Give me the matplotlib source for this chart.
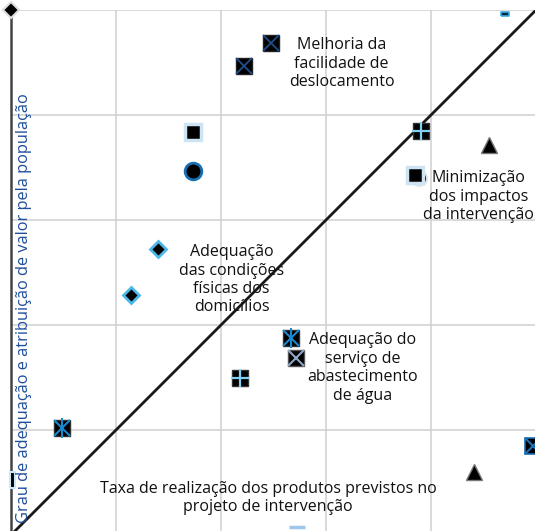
import matplotlib
matplotlib.use("Agg")
import matplotlib.pyplot as plt

plt.rcParams['font.family'] = ['Open Sans', 'DejaVu Sans']

# marker points: (x, y) in grid units, 0..5
x_melhoria = [2.48, 2.22]
y_melhoria = [4.69, 4.47]
x_adeq_agua = [2.67, 0.49]
y_adeq_agua = [1.88, 1.02]
x_agua_x = [2.71]
y_agua_x = [1.69]
x_plus = [3.90, 2.18]
y_plus = [3.85, 1.50]
x_diamond = [1.40, 1.14]
y_diamond = [2.72, 2.29]
x_square = [1.73, 3.85]
y_square = [3.84, 3.43]
x_circle = [1.73]
y_circle = [3.47]
x_circle2 = [3.89]
y_circle2 = [3.40]
x_triangle = [4.55, 4.41]
y_triangle = [3.71, 0.60]
x_right_sq = [4.97]
y_right_sq = [0.85]

labels = ["Melhoria da\nfacilidade de\ndeslocamento",
          "Minimização\ndos impactos\nda intervenção",
          "Adequação\ndas condições\nfísicas dos\ndomicílios",
          "Adequação do\nserviço de\nabastecimento\nde água",
          "Taxa de realização dos produtos previstos no\nprojeto de intervenção"]
label_x = [3.15, 4.45, 2.10, 3.35, 2.45]
label_y = [4.49, 3.22, 2.43, 1.59, 0.35]

W, H = 535, 531
fig = plt.figure(figsize=(W / 100, H / 100), dpi=100)
ax = fig.add_axes([11 / W, (H - 535) / H, 525 / W, 525 / H])
ax.set_xlim(0, 5)
ax.set_ylim(0, 5)
ax.set_xticks(range(6))
ax.set_yticks(range(6))
ax.grid(True, color='#d0d0d0', lw=1.1)
ax.tick_params(length=0, labelleft=False, labelbottom=False)
for s in ['top', 'right', 'bottom']:
    ax.spines[s].set_visible(False)
ax.spines['left'].set_color('#444444')
ax.spines['left'].set_linewidth(1.8)
ax.set_axisbelow(True)

ax.plot([0, 5], [0, 5], color='#1a1a1a', lw=2, zorder=2)

kw = dict(linestyle='none', clip_on=False, zorder=3)
# black squares with crosses
ax.plot(x_melhoria, y_melhoria, marker='s', ms=12, mfc='black', mec='#222222', mew=1, **kw)
ax.plot(x_melhoria, y_melhoria, marker='x', ms=11, mec='#1f4e8c', mew=1.3, **kw)
ax.plot(x_adeq_agua, y_adeq_agua, marker='s', ms=12, mfc='black', mec='#333333', mew=1, **kw)
ax.plot(x_adeq_agua, y_adeq_agua, marker='x', ms=11, mec='#1a88cc', mew=1.5, **kw)
ax.plot(x_adeq_agua, y_adeq_agua, marker='|', ms=15, mec='#1a88cc', mew=1.5, **kw)
ax.plot(x_agua_x, y_agua_x, marker='s', ms=12, mfc='black', mec='#555555', mew=1, **kw)
ax.plot(x_agua_x, y_agua_x, marker='x', ms=11, mec='#8fa6c6', mew=1.5, **kw)
ax.plot(x_plus, y_plus, marker='s', ms=12, mfc='black', mec='#333333', mew=1, **kw)
ax.plot(x_plus, y_plus, marker='+', ms=13, mec='#7fd0f2', mew=1.6, **kw)
ax.plot(x_right_sq, y_right_sq, marker='s', ms=12, mfc='black', mec='#1a6fb5', mew=1.2, **kw)
ax.plot(x_right_sq, y_right_sq, marker='x', ms=11, mec='#1a6fb5', mew=1.5, **kw)

ax.plot(x_circle, y_circle, marker='o', ms=12, mfc='black', mec='#1a6fb0', mew=2, **kw)
ax.plot(x_circle2, y_circle2, marker='o', ms=11, mfc='black', mec='#e8e8e8', mew=1.5, **kw)
ax.plot(x_square, y_square, marker='s', ms=11, mfc='black', mec='#cce4f4', mew=2.5, **kw)
ax.plot(x_diamond, y_diamond, marker='D', ms=8, mfc='black', mec='#4cb8e8', mew=2, **kw)
ax.plot(x_triangle, y_triangle, marker='^', ms=11, mfc='black', mec='#777777', mew=1, **kw)

# small odd markers
ax.plot([0], [5], marker='D', ms=8, mfc='black', mec='#dddddd', mew=1.5, **kw)
ax.plot([0.01], [0.52], marker=[(-0.3, -1), (0.3, -1), (0.3, 1), (-0.3, 1), (-0.3, -1)],
        ms=12, mfc='black', mec='#cde6f5', mew=1.5, **kw)
ax.plot([4.70], [4.96], marker=[(-1, -0.4), (1, -0.4), (1, 0.4), (-1, 0.4), (-1, -0.4)],
        ms=6, mfc='#0a2a4a', mec='#3aa8e0', mew=1.2, **kw)
ax.plot([2.72], [0.08], marker='_', ms=11, mec='#9ec6ea', mew=2.5, **kw)

for lx, ly, txt in zip(label_x, label_y, labels):
    ax.text(lx, ly, txt, ha='center', va='center', fontsize=11.5,
            color='#111111', linespacing=1.2, zorder=4)

fig.text(24 / W, 1 - 308 / H, "Grau de adequação e atribuição de valor pela população",
         rotation=90, ha='center', va='center', fontsize=11.8, color='#1f4e9a')

fig.savefig('out.png', dpi=100)
